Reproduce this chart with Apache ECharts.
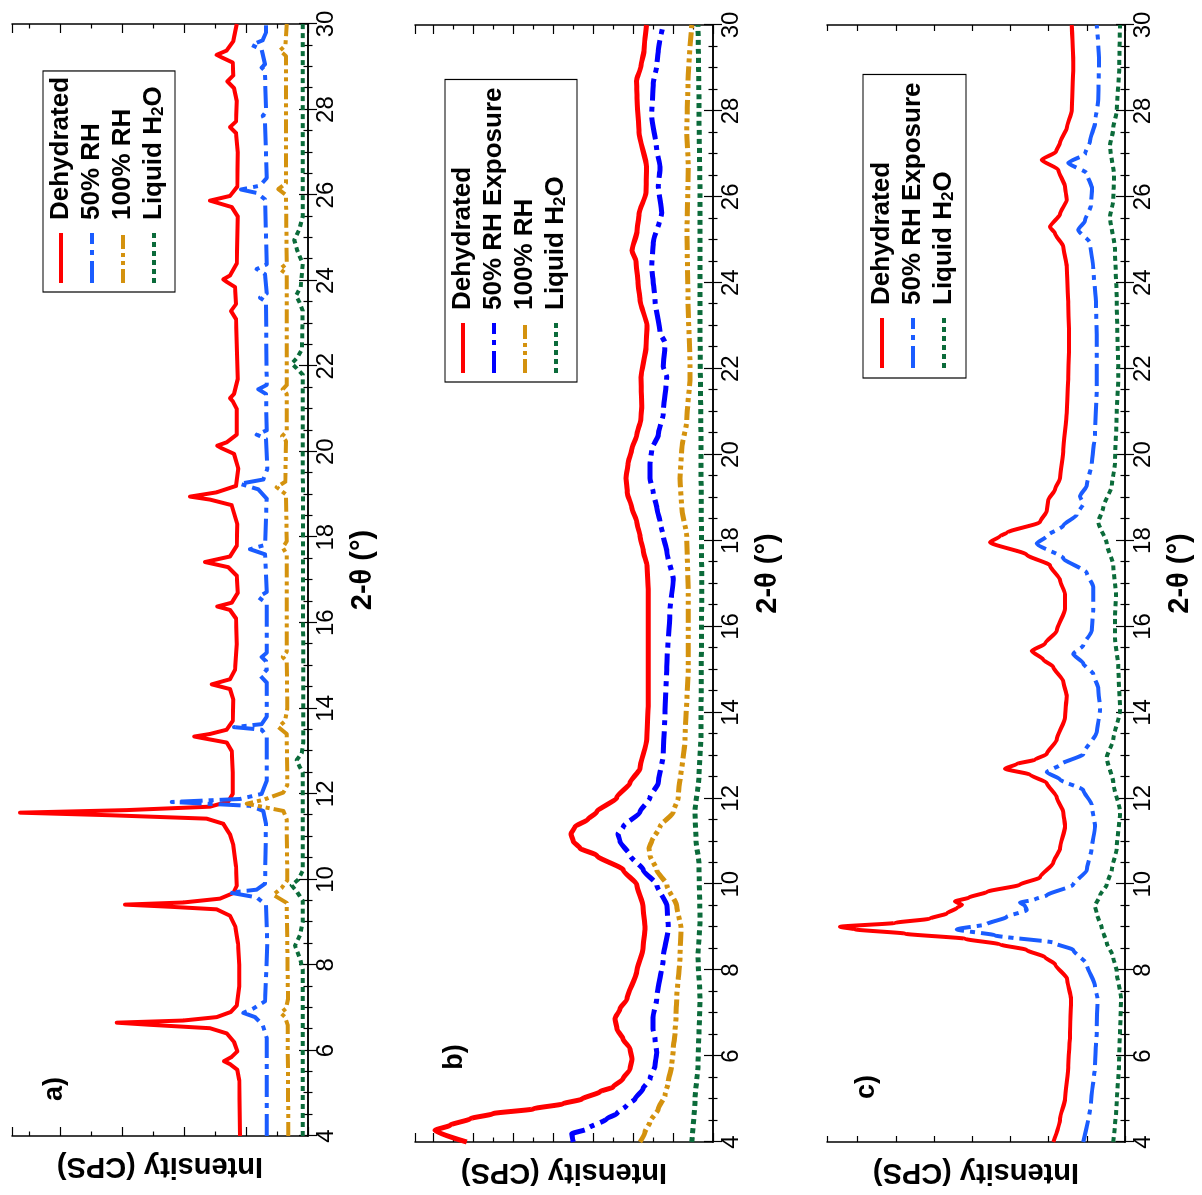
<!DOCTYPE html>
<html>
<head>
<meta charset="utf-8">
<title>XRD patterns under humidity exposure</title>
<script src="https://cdn.jsdelivr.net/npm/echarts@6/dist/echarts.min.js"></script>
<style>
  html, body { margin: 0; padding: 0; background: #fff; overflow: hidden; width: 1202px; height: 1195px; }
  /* the figure is laid out as a normal XRD plot and turned a quarter turn counter-clockwise */
  #chart { position: absolute; left: 0; top: 0; width: 1195px; height: 1202px;
           transform-origin: 0 0; transform: translate(0, 1195px) rotate(-90deg); }
</style>
</head>
<body>
<div id="chart"></div>
<script>
// 2-theta axis (degrees)
const thetaMin = 4;
const thetaMax = 30;
const thetaTickStep = 2;

// ---- panel a) : [2-theta, intensity (CPS)] ----
const aDehydrated = [[4.0,680],[5.3,687],[5.55,707],[5.68,780],[5.75,840],[5.85,763],[5.98,707],[6.2,740],[6.4,813],[6.52,980],[6.6,1580],[6.65,1913],[6.7,1247],[6.78,913],[6.9,773],[7.05,713],[7.5,687],[8.0,687],[8.5,700],[8.9,727],[9.15,780],[9.3,913],[9.36,1380],[9.41,1830],[9.46,1247],[9.55,880],[9.68,747],[9.85,713],[10.3,720],[10.8,747],[11.05,780],[11.15,807],[11.3,847],[11.42,1013],[11.5,1980],[11.56,2880],[11.62,1813],[11.7,980],[11.82,797],[12.0,753],[12.5,753],[13.0,763],[13.2,813],[13.3,1047],[13.34,1137],[13.4,980],[13.5,813],[13.7,753],[14.2,747],[14.45,780],[14.56,963],[14.68,780],[14.9,730],[15.5,713],[16.1,720],[16.3,780],[16.38,907],[16.47,763],[16.7,703],[17.1,713],[17.3,797],[17.42,1030],[17.55,780],[17.8,713],[18.3,707],[18.75,763],[18.88,980],[18.95,1180],[19.05,913],[19.2,720],[19.6,697],[19.95,740],[20.08,863],[20.14,907],[20.22,813],[20.4,713],[21.0,713],[21.18,753],[21.25,780],[21.35,740],[21.7,703],[22.5,713],[23.1,720],[23.29,770],[23.45,720],[23.85,730],[23.97,813],[24.03,847],[24.12,780],[24.4,713],[25.5,703],[25.72,763],[25.87,980],[25.98,780],[26.2,707],[27.0,703],[27.45,720],[27.59,780],[27.72,720],[28.2,713],[28.5,740],[28.66,807],[28.8,747],[29.1,753],[29.22,863],[29.28,913],[29.38,813],[29.6,747],[30.0,713]];
const aRH50 = [[4.0,413],[6.3,413],[6.6,453],[6.78,530],[6.88,647],[6.98,547],[7.15,430],[8.5,407],[9.4,420],[9.58,513],[9.69,780],[9.76,513],[9.9,430],[11.3,420],[11.6,447],[11.72,580],[11.81,1363],[11.88,680],[12.0,463],[12.3,413],[13.35,413],[13.5,463],[13.56,740],[13.63,463],[13.8,413],[14.6,413],[14.75,473],[14.9,413],[15.1,420],[15.2,463],[15.3,413],[16.45,413],[16.6,497],[16.72,413],[17.6,430],[17.72,580],[17.82,430],[18.9,413],[19.12,497],[19.25,680],[19.35,447],[19.6,407],[20.3,420],[20.4,513],[20.5,413],[21.35,420],[21.46,497],[21.56,413],[23.5,420],[23.6,480],[23.7,413],[24.15,430],[24.27,513],[24.38,413],[25.9,430],[26.05,513],[26.13,670],[26.22,480],[26.4,413],[27.75,430],[27.85,453],[27.95,420],[28.9,430],[28.98,463],[29.06,430],[29.4,463],[29.51,563],[29.62,453],[29.8,420],[30.0,420]];
const aRH100 = [[4.0,197],[6.6,203],[6.78,230],[6.88,273],[6.98,220],[7.2,200],[9.45,213],[9.64,347],[9.8,263],[9.98,207],[11.4,213],[11.6,247],[11.77,613],[11.86,447],[12.03,247],[12.2,207],[13.4,213],[13.56,297],[13.7,230],[14.0,207],[15.1,213],[15.2,253],[15.32,213],[17.6,213],[17.76,253],[17.9,213],[19.0,220],[19.17,313],[19.3,227],[20.25,220],[20.36,260],[20.48,213],[21.35,213],[21.46,253],[21.56,213],[24.15,213],[24.27,280],[24.4,213],[26.0,220],[26.14,297],[26.28,220],[29.25,220],[29.38,280],[29.5,227],[30.0,213]];
const aWater = [[4.0,53],[7.9,53],[8.15,80],[8.45,130],[8.7,80],[9.0,53],[9.5,53],[9.7,107],[9.86,163],[10.0,97],[10.2,53],[12.5,53],[12.65,87],[12.79,113],[12.95,63],[13.2,47],[21.8,53],[21.95,113],[22.06,163],[22.2,107],[22.4,60],[23.3,53],[23.5,87],[23.65,120],[23.85,73],[24.4,53],[24.7,107],[24.95,137],[25.2,87],[25.5,53],[30.0,53]];

// ---- panel b) ----
const bDehydrated = [[4.0,2463],[4.27,2780],[4.39,2630],[4.54,2430],[4.66,2200],[4.77,1800],[4.89,1500],[5.0,1310],[5.17,1130],[5.28,1000],[5.47,900],[5.7,830],[5.93,810],[6.17,830],[6.4,900],[6.63,960],[6.87,980],[7.1,930],[7.33,860],[7.97,763],[8.5,700],[8.98,680],[9.49,700],[9.99,763],[10.33,897],[10.67,1163],[10.84,1330],[11.0,1397],[11.17,1420],[11.34,1380],[11.51,1250],[11.68,1163],[12.02,963],[12.36,830],[12.7,730],[13.37,663],[14.2,647],[15.06,647],[15.9,647],[16.75,647],[17.42,660],[17.76,697],[18.1,730],[18.43,763],[18.77,813],[19.11,857],[19.45,870],[19.79,850],[20.12,813],[20.46,763],[20.8,723],[21.14,713],[21.8,720],[22.5,670],[23.0,660],[23.6,730],[24.0,750],[24.5,770],[24.75,810],[25.2,760],[25.6,740],[26.1,670],[26.7,665],[27.5,740],[28.3,760],[28.7,765],[29.05,720],[29.4,690],[30.0,665]];
const bRH50 = [[4.0,1397],[4.19,1413],[4.3,1263],[4.54,1063],[4.66,963],[4.85,863],[5.0,780],[5.24,700],[5.47,630],[5.78,580],[6.09,563],[6.4,580],[6.63,600],[6.9,600],[7.33,563],[8.3,497],[8.98,447],[9.49,460],[9.99,563],[10.33,697],[10.67,830],[11.0,930],[11.17,950],[11.34,897],[11.68,730],[12.02,630],[12.36,547],[13.03,497],[14.05,480],[15.06,463],[16.41,430],[17.08,397],[17.76,463],[18.1,497],[18.43,530],[18.77,563],[19.11,597],[19.45,630],[19.79,630],[20.12,613],[20.46,547],[20.97,497],[21.81,463],[22.05,497],[22.6,480],[22.84,530],[23.6,580],[24.38,613],[24.93,597],[25.63,513],[26.25,547],[26.7,530],[27.1,563],[27.87,613],[28.65,597],[29.05,563],[29.4,547],[30.0,497]];
const bRH100 = [[4.0,730],[4.23,680],[4.47,630],[4.77,547],[5.09,480],[5.4,447],[5.78,413],[6.17,397],[6.55,380],[6.94,370],[7.33,363],[8.3,330],[8.98,320],[9.49,363],[9.99,463],[10.33,563],[10.67,630],[10.84,640],[11.0,613],[11.34,530],[11.68,397],[12.02,347],[13.37,280],[15.06,247],[16.75,247],[18.1,263],[18.77,313],[19.45,330],[20.12,313],[20.8,263],[21.81,230],[22.05,230],[23.6,250],[25.2,260],[26.7,247],[27.5,263],[28.65,250],[30.0,213]];
const bWater = [[4.0,213],[5.0,180],[5.78,150],[7.33,130],[8.3,150],[9.15,130],[10.5,140],[11.0,170],[11.68,180],[12.5,140],[13.5,120],[17.0,113],[20.0,120],[23.16,130],[26.0,130],[28.0,140],[30.0,150]];

// ---- panel c) ----
const cDehydrated = [[4.0,717],[4.54,650],[5.0,600],[5.78,567],[6.55,550],[7.33,540],[7.8,580],[8.14,700],[8.3,800],[8.47,983],[8.6,1250],[8.73,1600],[8.85,2200],[8.95,2700],[9.01,2850],[9.1,2300],[9.2,1950],[9.32,1783],[9.45,1680],[9.52,1630],[9.6,1700],[9.69,1560],[9.82,1383],[9.99,1050],[10.16,850],[10.5,717],[10.84,650],[11.34,600],[11.68,617],[12.02,683],[12.36,783],[12.55,950],[12.69,1200],[12.8,1080],[12.9,900],[13.03,783],[13.37,683],[13.88,600],[14.38,583],[14.72,617],[15.06,717],[15.23,817],[15.43,933],[15.6,800],[15.9,683],[16.41,600],[16.75,600],[17.08,650],[17.42,750],[17.67,983],[17.96,1350],[18.1,1250],[18.18,1183],[18.43,850],[18.69,783],[18.94,767],[19.19,700],[19.45,650],[20.12,617],[20.97,583],[21.81,567],[22.66,560],[23.5,567],[24.38,583],[24.84,617],[25.15,700],[25.3,750],[25.6,650],[25.93,583],[26.24,600],[26.63,667],[26.86,833],[27.05,690],[27.26,650],[27.6,583],[28.0,533],[29.0,517],[30.0,533]];
const cRH50 = [[4.0,417],[4.93,340],[5.78,300],[6.62,283],[7.33,275],[7.63,300],[8.14,383],[8.47,517],[8.64,717],[8.81,1300],[8.95,1683],[9.07,1383],[9.24,1183],[9.4,983],[9.5,1000],[9.57,1050],[9.65,900],[9.74,783],[9.99,517],[10.33,383],[10.84,333],[11.34,300],[11.85,333],[12.19,417],[12.44,650],[12.61,783],[12.78,650],[13.03,417],[13.54,283],[14.04,250],[14.55,267],[14.89,317],[15.14,417],[15.36,517],[15.56,417],[15.9,333],[16.41,317],[16.92,317],[17.25,383],[17.59,617],[17.93,883],[18.1,783],[18.35,617],[18.6,483],[18.86,417],[19.03,450],[19.28,383],[19.79,333],[20.46,300],[21.47,283],[22.66,283],[23.5,290],[24.34,317],[24.93,350],[25.23,467],[25.45,400],[25.8,340],[26.2,330],[26.55,383],[26.79,567],[27.0,400],[27.3,350],[27.72,300],[28.26,267],[29.24,260],[30.0,283]];
const cWater = [[4.0,117],[4.93,83],[5.78,60],[7.33,40],[7.97,83],[8.3,117],[8.64,183],[8.98,233],[9.32,283],[9.49,300],[9.74,250],[9.99,183],[10.33,133],[10.84,83],[11.68,50],[12.36,117],[12.95,183],[13.37,117],[14.04,50],[15.06,67],[15.73,100],[16.24,100],[16.75,90],[17.42,117],[17.93,183],[18.43,267],[18.77,217],[19.28,133],[19.79,100],[20.97,83],[21.81,67],[23.6,83],[24.77,100],[25.53,150],[25.93,117],[26.5,110],[27.17,150],[27.6,117],[28.0,83],[29.03,57],[30.0,50]];

// intensity scales per panel (no tick labels are printed)
const intensityMax = [2960, 2980, 2980];
const intensityStep = [620, 400, 382];
const intensityMinorSplit = [2, 2, 0];

// series styling
const RED = '#ff0000', BLUE = '#1a5cff', DEEPBLUE = '#0000ff', GOLD = '#d4920e', GREEN = '#0b6b3a';
const DASH_DOT = [22, 6, 5, 6];
const DASH_DOT_DOT = [14, 4, 4, 4, 4, 4];
const DOTS = [5, 4];

const FONT = 'Liberation Sans, Arial, Helvetica, sans-serif';

const grids = [
  { left: 59, top: 12, width: 1112, height: 296 },
  { left: 52, top: 415, width: 1118, height: 298 },
  { left: 52, top: 827, width: 1118, height: 298 }
];

const xAxes = [], yAxes = [];
grids.forEach((g, i) => {
  // bottom 2-theta axis with labels and title
  xAxes.push({
    type: 'value', gridIndex: i, position: 'bottom',
    min: thetaMin, max: thetaMax, interval: thetaTickStep,
    name: '2-θ (°)', nameLocation: 'middle', nameGap: 40,
    nameTextStyle: { fontSize: 29, fontWeight: 'bold', color: '#000', fontFamily: FONT, padding: [0, 0, 0, 20] },
    axisLine: { show: true, lineStyle: { color: '#000', width: 1.5 } },
    axisTick: { show: true, inside: true, length: 9, lineStyle: { color: '#000', width: 1.2 } },
    minorTick: { show: true, splitNumber: 4, length: 4.5, lineStyle: { color: '#000', width: 1.2 } },
    axisLabel: { show: true, fontSize: 24, color: '#000', fontFamily: FONT, margin: 6 },
    splitLine: { show: false }
  });
  // mirrored top axis, ticks only
  xAxes.push({
    type: 'value', gridIndex: i, position: 'top',
    min: thetaMin, max: thetaMax, interval: thetaTickStep,
    axisLine: { show: true, lineStyle: { color: '#000', width: 1.5 } },
    axisTick: { show: true, inside: true, length: 9, lineStyle: { color: '#000', width: 1.2 } },
    minorTick: { show: true, splitNumber: 4, length: 4.5, lineStyle: { color: '#000', width: 1.2 } },
    axisLabel: { show: false },
    splitLine: { show: false }
  });
  const minor = intensityMinorSplit[i] > 0
    ? { show: true, splitNumber: intensityMinorSplit[i], length: 4.5, lineStyle: { color: '#000', width: 1.2 } }
    : { show: false };
  const tickLen = i === 2 ? 6 : 9;
  yAxes.push({
    type: 'value', gridIndex: i, position: 'left',
    min: 0, max: intensityMax[i], interval: intensityStep[i],
    name: 'Intensity (CPS)', nameLocation: 'middle', nameGap: 16,
    nameTextStyle: { fontSize: 29, fontWeight: 'bold', color: '#000', fontFamily: FONT },
    axisLine: { show: true, lineStyle: { color: '#000', width: 1.5 } },
    axisTick: { show: true, inside: true, length: tickLen, lineStyle: { color: '#000', width: 1.2 } },
    minorTick: minor,
    axisLabel: { show: false },
    splitLine: { show: false }
  });
  yAxes.push({
    type: 'value', gridIndex: i, position: 'right',
    min: 0, max: intensityMax[i], interval: intensityStep[i],
    axisLine: { show: true, lineStyle: { color: '#000', width: 1.5 } },
    axisTick: { show: true, inside: true, length: tickLen, lineStyle: { color: '#000', width: 1.2 } },
    minorTick: minor,
    axisLabel: { show: false },
    splitLine: { show: false }
  });
});

function curve(name, data, panel, color, dash, width, smooth) {
  return {
    type: 'line', name: name, data: data,
    xAxisIndex: panel * 2, yAxisIndex: panel * 2,
    symbol: 'none', showSymbol: false, silent: true, animation: false,
    clip: true, smooth: smooth, smoothMonotone: 'x',
    lineStyle: { color: color, width: width, type: dash, cap: 'butt', join: 'round' },
    itemStyle: { color: color }
  };
}

const series = [
  curve('Dehydrated', aDehydrated, 0, RED, 'solid', 4, false),
  curve('50% RH', aRH50, 0, BLUE, DASH_DOT, 4, false),
  curve('100% RH', aRH100, 0, GOLD, DASH_DOT_DOT, 4, false),
  curve('Liquid H₂O', aWater, 0, GREEN, DOTS, 4, false),

  curve('Dehydrated', bDehydrated, 1, RED, 'solid', 5, 0.2),
  curve('50% RH Exposure', bRH50, 1, DEEPBLUE, DASH_DOT, 5, 0.2),
  curve('100% RH', bRH100, 1, GOLD, DASH_DOT_DOT, 5, 0.2),
  curve('Liquid H₂O', bWater, 1, GREEN, DOTS, 5, 0.2),

  curve('Dehydrated', cDehydrated, 2, RED, 'solid', 4, 0.2),
  curve('50% RH Exposure', cRH50, 2, BLUE, DASH_DOT, 4, 0.2),
  curve('Liquid H₂O', cWater, 2, GREEN, DOTS, 4, 0.2)
];

// legend samples are plain line strokes; the marker dot is made transparent
function legendItem(name, color, dash) {
  return {
    name: name,
    itemStyle: { color: 'rgba(0,0,0,0)', borderWidth: 0, opacity: 0 },
    lineStyle: { color: color, type: dash, width: 4, opacity: 1 }
  };
}

function legendBox(pos, items) {
  return Object.assign({
    orient: 'vertical', selectedMode: false,
    itemWidth: 50, itemHeight: 14, itemGap: 5,
    borderColor: '#000', borderWidth: 1.2, backgroundColor: '#fff',
    formatter: name => name.replace('H₂O', 'H{sub|2}O'),
    textStyle: {
      fontSize: 26, fontWeight: 'bold', color: '#000', fontFamily: FONT, lineHeight: 26, padding: [0, 0, 0, 8],
      rich: { sub: { fontSize: 17, fontWeight: 'bold', color: '#000', fontFamily: FONT, lineHeight: 10, verticalAlign: 'bottom' } }
    },
    data: items
  }, pos);
}

const legends = [
  legendBox({ left: 903, top: 43, padding: [5, 6, 8, 7] }, [
    legendItem('Dehydrated', RED, 'solid'),
    legendItem('50% RH', BLUE, DASH_DOT),
    legendItem('100% RH', GOLD, DASH_DOT_DOT),
    legendItem('Liquid H₂O', GREEN, DOTS)
  ]),
  legendBox({ left: 813, top: 445, padding: [5, 8, 8, 7] }, [
    legendItem('Dehydrated', RED, 'solid'),
    legendItem('50% RH Exposure', DEEPBLUE, DASH_DOT),
    legendItem('100% RH', GOLD, DASH_DOT_DOT),
    legendItem('Liquid H₂O', GREEN, DOTS)
  ]),
  legendBox({ left: 817, top: 863, padding: [6, 8, 9, 8] }, [
    legendItem('Dehydrated', RED, 'solid'),
    legendItem('50% RH Exposure', BLUE, DASH_DOT),
    legendItem('Liquid H₂O', GREEN, DOTS)
  ])
];

// panel letters
const panelTags = [
  { text: 'a)', x: 106, y: 55 },
  { text: 'b)', x: 138, y: 455 },
  { text: 'c)', x: 108, y: 867 }
];

const chart = echarts.init(document.getElementById('chart'), null, { renderer: 'canvas', width: 1195, height: 1202 });
chart.setOption({
  backgroundColor: '#fff',
  animation: false,
  grid: grids,
  xAxis: xAxes,
  yAxis: yAxes,
  legend: legends,
  series: series,
  graphic: panelTags.map(t => ({
    type: 'text', x: t.x, y: t.y,
    style: { text: t.text, fontSize: 27, fontWeight: 'bold', fill: '#000', fontFamily: FONT, align: 'center', verticalAlign: 'middle' }
  }))
});
</script>
</body>
</html>
